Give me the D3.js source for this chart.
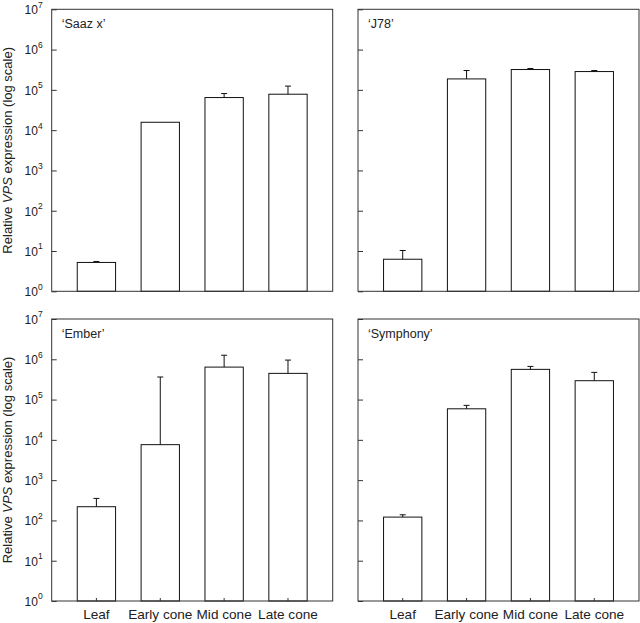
<!DOCTYPE html>
<html>
<head>
<meta charset="utf-8">
<script src="https://cdn.jsdelivr.net/npm/d3@7"></script>
<style>
  body { margin: 0; background: #fff; }
  svg { display: block; font-family: "Liberation Sans", Arial, Helvetica, sans-serif; }
</style>
</head>
<body>
<svg id="chart" width="640" height="623"></svg>
<script>
const categories = ["Leaf", "Early cone", "Mid cone", "Late cone"];
const panelTitles = ["\u2018Saaz x\u2019", "\u2018J78\u2019", "\u2018Ember\u2019", "\u2018Symphony\u2019"];
const tickExponents = [0, 1, 2, 3, 4, 5, 6, 7];

const saazValues   = [5.2, 15700, 64500, 78000];
const saazErrTop   = [5.5, 15700, 81000, 124000];
const j78Values    = [6.25, 187000, 320000, 285000];
const j78ErrTop    = [10.3, 302000, 339000, 302000];
const emberValues  = [219, 7600, 640000, 447000];
const emberErrTop  = [352, 363000, 1260000, 955000];
const symphValues  = [121, 59000, 562000, 294000];
const symphErrTop  = [138, 71800, 665000, 473000];

const yTitle = ["Relative ", "VPS", " expression (log scale)"];

const panels = [
  {title: panelTitles[0], values: saazValues,  err: saazErrTop,  x: 51.7, y: 9.3, yLabels: true,  xLabels: false},
  {title: panelTitles[1], values: j78Values,   err: j78ErrTop,   x: 358,  y: 9.3, yLabels: false, xLabels: false},
  {title: panelTitles[2], values: emberValues, err: emberErrTop, x: 51.7, y: 319, yLabels: true,  xLabels: true},
  {title: panelTitles[3], values: symphValues, err: symphErrTop, x: 358,  y: 319, yLabels: false, xLabels: true}
];

const W = 281, H = 282;
const svg = d3.select("#chart");

panels.forEach(p => {
  const g = svg.append("g").attr("transform", `translate(${p.x},${p.y})`);
  const x = d3.scaleBand().domain(categories).range([0, W]).paddingInner(0.4).paddingOuter(0.4);
  const y = d3.scaleLog().domain([1, 1e7]).range([H, 0]);

  // bars
  g.selectAll("rect.bar").data(p.values).join("rect")
    .attr("class", "bar")
    .attr("x", (d, i) => x(categories[i]))
    .attr("width", x.bandwidth())
    .attr("y", d => y(d))
    .attr("height", d => H - y(d))
    .attr("fill", "#fff").attr("stroke", "#111").attr("stroke-width", 1);

  // error bars
  const eb = g.selectAll("g.err").data(p.values.map((v, i) => ({v, e: p.err[i], c: categories[i]})))
    .join("g").attr("class", "err");
  eb.filter(d => d.e > d.v * 1.02).append("line")
    .attr("x1", d => x(d.c) + x.bandwidth() / 2).attr("x2", d => x(d.c) + x.bandwidth() / 2)
    .attr("y1", d => y(d.v)).attr("y2", d => y(d.e))
    .attr("stroke", "#111").attr("stroke-width", 1);
  eb.filter(d => d.e > d.v * 1.02).append("line")
    .attr("x1", d => x(d.c) + x.bandwidth() / 2 - 3).attr("x2", d => x(d.c) + x.bandwidth() / 2 + 3)
    .attr("y1", d => y(d.e)).attr("y2", d => y(d.e))
    .attr("stroke", "#111").attr("stroke-width", 1);

  // y axis ticks (inward)
  const yAxis = d3.axisRight(y).tickValues(tickExponents.map(e => Math.pow(10, e))).tickSize(5).tickFormat("");
  const ya = g.append("g").call(yAxis);
  ya.select(".domain").remove();
  ya.selectAll(".tick line").attr("stroke", "#333");

  if (p.yLabels) {
    const lab = g.append("g");
    tickExponents.forEach(e => {
      const t = lab.append("text")
        .attr("x", -9).attr("y", y(Math.pow(10, e))).attr("dy", "0.4em")
        .attr("text-anchor", "end").attr("font-size", 12).attr("fill", "#222");
      t.append("tspan").text("10");
      t.append("tspan").attr("font-size", 8.5).attr("dy", "-0.75em").text(String(e));
    });
  }

  // x axis ticks (inward)
  if (p.xLabels) {
    const xAxis = d3.axisTop(x).tickSize(3).tickFormat("");
    const xa = g.append("g").attr("transform", `translate(0,${H})`).call(xAxis);
    xa.select(".domain").remove();
    xa.selectAll(".tick line").attr("stroke", "#333");
    g.selectAll("text.xl").data(categories).join("text")
      .attr("class", "xl")
      .attr("x", d => x(d) + x.bandwidth() / 2).attr("y", H + 17.5)
      .attr("text-anchor", "middle").attr("font-size", 13.6).attr("fill", "#222")
      .text(d => d);
  }

  // frame
  g.append("rect").attr("width", W).attr("height", H)
    .attr("fill", "none").attr("stroke", "#333").attr("stroke-width", 1);

  // title
  g.append("text").attr("x", 10).attr("y", 19).attr("font-size", 12.5).attr("fill", "#222").text(p.title);

  if (p.yLabels) {
    const t = svg.append("text")
      .attr("transform", `translate(11.5,${p.y + H / 2}) rotate(-90)`)
      .attr("text-anchor", "middle").attr("font-size", 13).attr("fill", "#222");
    t.append("tspan").text(yTitle[0]);
    t.append("tspan").attr("font-style", "italic").text(yTitle[1]);
    t.append("tspan").text(yTitle[2]);
  }
});
</script>
</body>
</html>
